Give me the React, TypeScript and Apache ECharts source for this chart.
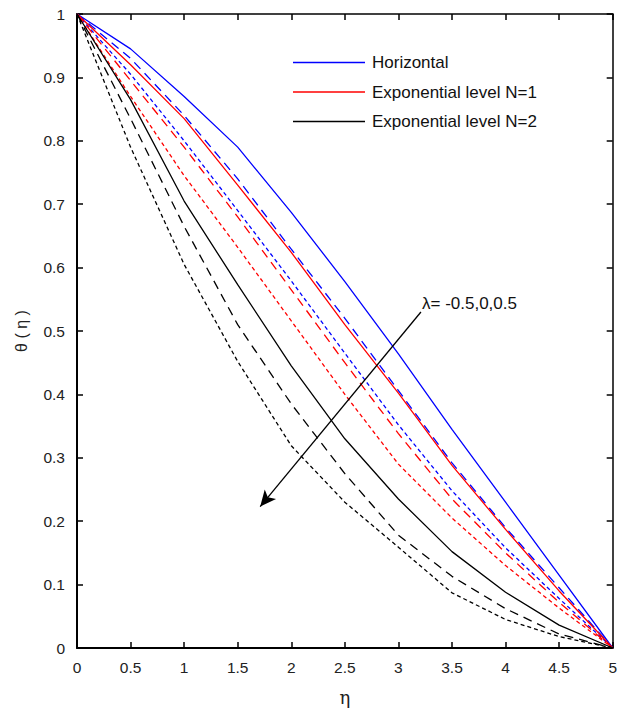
import React, { useEffect, useRef } from "react";
import * as echarts from "echarts";

// η grid
const eta = [0, 0.5, 1, 1.5, 2, 2.5, 3, 3.5, 4, 4.5, 5];

// Horizontal (blue)
const horizNeg = [1, 0.945, 0.87, 0.79, 0.687, 0.578, 0.464, 0.345, 0.23, 0.115, 0];
const horizZero = [1, 0.93, 0.84, 0.74, 0.629, 0.52, 0.406, 0.292, 0.19, 0.095, 0];
const horizPos = [1, 0.905, 0.8, 0.69, 0.579, 0.465, 0.352, 0.248, 0.158, 0.078, 0];

// Exponential level N=1 (red)
const expN1Neg = [1, 0.92, 0.835, 0.73, 0.624, 0.51, 0.402, 0.288, 0.187, 0.09, 0];
const expN1Zero = [1, 0.895, 0.79, 0.68, 0.565, 0.45, 0.338, 0.235, 0.15, 0.072, 0];
const expN1Pos = [1, 0.87, 0.745, 0.632, 0.516, 0.4, 0.29, 0.205, 0.13, 0.063, 0];

// Exponential level N=2 (black)
const expN2Neg = [1, 0.865, 0.705, 0.573, 0.445, 0.33, 0.235, 0.152, 0.088, 0.036, 0];
const expN2Zero = [1, 0.835, 0.665, 0.51, 0.385, 0.275, 0.178, 0.113, 0.062, 0.022, 0];
const expN2Pos = [1, 0.79, 0.605, 0.452, 0.319, 0.23, 0.159, 0.087, 0.045, 0.018, 0];

const legendNames = ["Horizontal", "Exponential level N=1", "Exponential level N=2"];
const lambdaLabel = "λ= -0.5,0,0.5";
// arrow from / to in data coords
const arrowFrom = [3.21, 0.53];
const arrowTo = [1.71, 0.223];

const FONT = "'Liberation Sans', Arial, sans-serif";
const LONG_DASH = [9, 6];
const SHORT_DASH = [4, 3];

function pairs(vals: number[]) {
  return eta.map((x, i) => [x, vals[i]]);
}

export default function App() {
  const ref = useRef<HTMLDivElement>(null);
  useEffect(() => {
    document.body.style.margin = "0";
    const chart = echarts.init(ref.current!, undefined, { renderer: "svg" });
    const mk = (name: string, vals: number[], color: string, type: any, extra: any = {}) => ({
      name,
      type: "line",
      data: pairs(vals),
      symbol: "none",
      showSymbol: false,
      xAxisIndex: 0,
      yAxisIndex: 0,
      lineStyle: { color, width: 1.3, type },
      itemStyle: { color },
      ...extra,
    });
    const axisLineStyle = (w: number) => ({ show: true, onZero: false, lineStyle: { color: "#000", width: w } });
    chart.setOption({
      animation: false,
      backgroundColor: "#fff",
      grid: { left: 77, top: 14, width: 540, height: 636, containLabel: false },
      xAxis: [
        {
          type: "value",
          min: 0,
          max: 5,
          interval: 0.5,
          position: "bottom",
          name: "η",
          nameLocation: "middle",
          nameGap: 40,
          nameTextStyle: { fontSize: 18, color: "#222", fontFamily: "'DejaVu Serif', serif" },
          axisLine: axisLineStyle(2),
          axisTick: { show: true, inside: true, length: 6, lineStyle: { color: "#000", width: 1.5 } },
          axisLabel: { fontSize: 15.5, color: "#222", margin: 11, fontFamily: FONT },
          splitLine: { show: false },
        },
        {
          type: "value",
          min: 0,
          max: 5,
          interval: 0.5,
          position: "top",
          axisLine: axisLineStyle(1.5),
          axisTick: { show: true, inside: true, length: 6, lineStyle: { color: "#000", width: 1.5 } },
          axisLabel: { show: false },
          splitLine: { show: false },
        },
      ],
      yAxis: [
        {
          type: "value",
          min: 0,
          max: 1,
          interval: 0.1,
          position: "left",
          name: "θ ( η )",
          nameLocation: "middle",
          nameGap: 48,
          nameRotate: 90,
          nameTextStyle: { fontSize: 16, color: "#222", fontFamily: FONT },
          axisLine: axisLineStyle(2),
          axisTick: { show: true, inside: true, length: 6, lineStyle: { color: "#000", width: 1.5 } },
          axisLabel: { fontSize: 15.5, color: "#222", margin: 12, fontFamily: FONT },
          splitLine: { show: false },
        },
        {
          type: "value",
          min: 0,
          max: 1,
          interval: 0.1,
          position: "right",
          axisLine: axisLineStyle(1.5),
          axisTick: { show: true, inside: true, length: 6, lineStyle: { color: "#000", width: 1.5 } },
          axisLabel: { show: false },
          splitLine: { show: false },
        },
      ],
      legend: {
        data: legendNames,
        orient: "vertical",
        left: 288,
        top: 49,
        icon: "rect",
        itemWidth: 72,
        itemHeight: 1.4,
        itemGap: 12.5,
        textStyle: { fontSize: 17, color: "#111", fontFamily: FONT, padding: [0, 0, 0, 2] },
        selectedMode: false,
      },
      graphic: [
        {
          type: "text",
          left: 422,
          top: 295,
          style: { text: lambdaLabel, fontSize: 17, fill: "#111", fontFamily: FONT },
        },
      ],
      series: [
        mk("Horizontal", horizNeg, "#0000ff", "solid", {
          markLine: {
            silent: true,
            symbol: ["none", "arrow"],
            symbolSize: [11, 16],
            lineStyle: { color: "#000", width: 1.3, type: "solid" },
            label: { show: false },
            data: [[{ coord: arrowFrom }, { coord: arrowTo }]],
          },
        }),
        mk("Horizontal λ=0", horizZero, "#0000ff", LONG_DASH),
        mk("Horizontal λ=0.5", horizPos, "#0000ff", SHORT_DASH),
        mk("Exponential level N=1", expN1Neg, "#ff0000", "solid"),
        mk("Exponential level N=1 λ=0", expN1Zero, "#ff0000", LONG_DASH),
        mk("Exponential level N=1 λ=0.5", expN1Pos, "#ff0000", SHORT_DASH),
        mk("Exponential level N=2", expN2Neg, "#000000", "solid"),
        mk("Exponential level N=2 λ=0", expN2Zero, "#000000", LONG_DASH),
        mk("Exponential level N=2 λ=0.5", expN2Pos, "#000000", SHORT_DASH),
      ],
    });
    return () => chart.dispose();
  }, []);
  return <div ref={ref} style={{ width: 620, height: 711 }} />;
}
